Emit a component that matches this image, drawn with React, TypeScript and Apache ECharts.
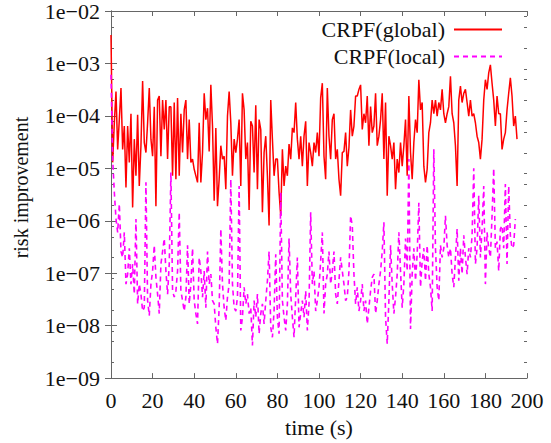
import React, { useEffect, useRef } from "react";
import * as echarts from "echarts";

// sampling interval of the recorded data (seconds)
const SAMPLE_STEP = 0.8;

const globalRisk: number[] = [
  3.5e-3, 1.3e-5, 7.4e-5, 2.9e-4, 2.3e-5, 8.5e-5, 3.4e-4, 2.3e-5, 6.4e-5, 4.3e-6,
  6.4e-5, 1.3e-5, 1.1e-4, 1.8e-6, 3.6e-5, 7.2e-6, 1.05e-4, 4.6e-6, 2.7e-5, 4.6e-4,
  3.1e-5, 2.0e-5, 7.4e-5, 3.4e-4, 3.6e-5, 1.7e-5, 1.5e-4, 1.9e-6, 2.0e-4, 2.4e-4,
  1.7e-5, 2.0e-4, 5.5e-5, 2.0e-4, 1.5e-5, 1.5e-4, 1.5e-4, 7.2e-6, 1.8e-4, 6.2e-6,
  2.2e-4, 7.2e-6, 1.1e-4, 2.0e-5, 1.3e-4, 2.0e-4, 1.5e-5, 8.5e-5, 1.3e-5, 1.5e-5,
  9.6e-6, 7.2e-6, 5.4e-6, 7.4e-5, 5.4e-6, 2.0e-5, 2.7e-4, 8.5e-5, 1.4e-4, 2.1e-5,
  3.9e-4,
  6.4e-5, 2.4e-6, 5.9e-5, 1.9e-6, 6.2e-6, 2.7e-5, 1.5e-5, 1.7e-5, 4.0e-6, 9.9e-5,
  2.9e-4, 7.4e-5, 7.2e-6, 3.6e-5, 2.0e-5, 3.6e-5, 8.5e-5, 4.6e-6, 2.7e-4, 1.3e-4,
  1.5e-5, 3.1e-5, 1.6e-6, 7.9e-5, 6.4e-5, 8.3e-6, 1.6e-4, 4.0e-6, 8.5e-5, 5.5e-5,
  1.45e-6, 2.0e-5, 4.1e-5, 7.2e-6, 8.1e-7, 2.0e-4, 3.6e-5, 7.2e-6, 1.5e-5, 1.5e-5,
  3.5e-6, 1.25e-6, 2.3e-5, 4.6e-6, 1.1e-5, 7.2e-6, 2.9e-5, 1.5e-5, 5.9e-5, 4.8e-5,
  1.8e-4, 3.6e-5, 1.5e-5, 4.1e-5, 1.1e-5, 4.1e-5, 7.9e-5, 4.6e-6, 3.1e-5, 2.0e-5,
  1.1e-5, 3.1e-5,
  2.0e-5, 4.8e-5, 1.7e-5, 2.2e-4, 4.2e-4, 1.7e-5, 6.2e-6, 3.4e-4, 4.1e-5, 1.5e-5,
  8.5e-5, 1.1e-4, 1.5e-5, 2.3e-5, 6.2e-6, 3.0e-6, 2.0e-5, 2.1e-5, 4.8e-5, 1.1e-5,
  2.5e-5, 1.3e-4, 4.1e-5, 6.4e-5, 2.4e-4, 2.4e-4, 3.2e-4, 3.9e-4, 5.5e-5, 1.1e-4,
  7.4e-5, 2.4e-4, 2.7e-5, 1.5e-4, 4.8e-5, 6.4e-5, 2.7e-4, 2.7e-5, 4.1e-5, 8.5e-5,
  2.7e-4, 1.5e-5, 1.8e-4, 3.0e-6, 4.1e-5, 2.7e-5, 1.5e-5, 3.1e-5, 4.0e-6, 1.5e-5,
  8.3e-6, 3.1e-5, 1.1e-5, 2.7e-5, 8.5e-5, 7.2e-6,
  2.4e-4, 2.0e-5, 6.2e-6, 3.1e-5, 8.5e-5, 4.8e-5, 4.9e-4, 1.3e-4, 1.8e-4, 1.1e-5,
  5.4e-6, 9.6e-6, 4.8e-5, 7.4e-5, 2.0e-4, 1.1e-4, 2.0e-4, 9.9e-5, 1.8e-4, 1.3e-4,
  3.2e-4, 1.1e-4, 7.4e-5, 1.1e-4, 1.5e-4, 5.7e-4, 1.1e-4, 7.4e-5, 2.7e-5, 4.6e-6,
  2.0e-4, 3.7e-4, 1.8e-4, 2.7e-4, 3.2e-4, 1.8e-4, 9.9e-5, 2.0e-4, 9.9e-5, 1.1e-4,
  7.4e-5, 4.1e-5, 3.1e-5, 1.5e-5, 3.6e-5, 2.0e-4, 4.9e-4, 3.2e-4, 6.6e-4, 9.4e-4,
  4.2e-4, 2.0e-4, 6.4e-5, 2.4e-4, 1.1e-4, 1.1e-4, 2.3e-5, 3.6e-5, 4.8e-5, 1.3e-4,
  2.7e-4, 5.3e-4, 2.4e-4, 6.4e-5, 9.9e-5, 3.6e-5,
];

const localRisk: number[] = [
  6.1e-4, 1.5e-5, 3.5e-6, 1.08e-6, 6.0e-7, 2.1e-6, 2.6e-7, 2.0e-7, 6.0e-7, 6.2e-8,
  9.6e-8, 3.0e-7, 6.2e-8, 1.5e-7, 4.0e-8, 1.08e-6, 2.6e-8, 6.2e-8, 4.0e-8, 1.9e-8,
  2.2e-8, 5.4e-6, 3.0e-8, 1.55e-8, 6.2e-8, 1.1e-7, 3.4e-7, 8.3e-8, 4.0e-8, 1.7e-8,
  1.5e-7, 2.6e-7, 4.6e-7, 1.1e-7, 4.0e-8, 1.5e-7, 8.3e-6, 4.6e-8, 3.5e-8, 4.6e-8,
  1.1e-7, 1.45e-6, 4.6e-8, 3.0e-8, 1.9e-8, 3.5e-8, 3.4e-7, 2.6e-8, 6.2e-8, 3.0e-7,
  3.0e-8, 1.7e-8, 1.08e-8, 2.0e-7, 1.1e-7, 3.5e-8, 1.1e-7, 2.2e-8, 2.6e-7, 6.2e-8,
  9.6e-8,
  3.0e-8, 2.6e-8, 9.3e-9, 4.5e-9, 2.2e-8, 7.0e-7, 6.2e-8, 2.2e-8, 1.25e-8, 3.5e-8,
  6.2e-8, 6.2e-6, 6.2e-8, 2.2e-8, 1.9e-8, 3.5e-8, 4.6e-6, 8.1e-9, 1.45e-8, 5.4e-8,
  2.6e-8, 4.0e-8, 1.7e-8, 2.2e-8, 4.2e-9, 3.0e-8, 1.45e-8, 4.0e-8, 7.0e-9, 1.7e-8,
  2.6e-8, 1.08e-8, 3.0e-8, 7.2e-8, 2.6e-7, 9.3e-9, 6.0e-9, 1.9e-8, 2.3e-7, 1.45e-8,
  7.0e-9, 3.5e-6, 3.0e-8, 1.45e-8, 8.1e-9, 2.6e-8, 4.6e-7, 4.0e-8, 1.45e-8, 6.0e-9,
  3.5e-8, 2.0e-7, 9.3e-9, 1.7e-8, 3.0e-8, 1.45e-8, 4.6e-8, 8.1e-9, 2.6e-8, 1.45e-6,
  6.2e-8, 1.1e-7,
  1.9e-8, 3.0e-8, 5.4e-8, 1.7e-7, 6.0e-7, 1.7e-8, 6.2e-8, 9.6e-8, 2.6e-7, 6.2e-8,
  1.1e-7, 2.6e-7, 4.0e-8, 2.6e-8, 7.2e-8, 2.0e-7, 1.1e-7, 6.2e-8, 3.0e-8, 3.5e-8,
  1.1e-7, 1.25e-6, 8.1e-7, 9.6e-8, 2.6e-8, 5.4e-8, 1.9e-8, 3.0e-8, 6.2e-8, 1.9e-8,
  3.0e-8, 1.08e-8, 2.2e-8, 4.6e-8, 8.3e-8, 9.6e-8, 1.7e-8, 3.0e-8, 6.2e-8, 1.1e-7,
  2.6e-7, 9.4e-7, 1.45e-8, 4.5e-9, 3.0e-8, 3.4e-7, 6.2e-8, 1.7e-8, 3.5e-8, 9.6e-8,
  6.0e-7, 1.1e-7, 2.2e-8, 6.2e-8, 4.6e-7, 1.1e-7,
  1.5e-5, 8.6e-9, 9.6e-8, 3.0e-7, 7.2e-8, 2.3e-7, 2.2e-6, 5.4e-8, 1.7e-7, 3.0e-7,
  7.2e-8, 3.4e-7, 9.6e-8, 5.4e-8, 1.9e-8, 2.3e-5, 3.0e-7, 5.4e-8, 3.0e-8, 3.4e-7,
  2.0e-7, 3.0e-7, 1.25e-6, 3.4e-7, 2.0e-7, 3.0e-7, 9.6e-8, 5.4e-8, 2.0e-7, 7.0e-7,
  7.2e-8, 3.0e-7, 9.6e-8, 5.3e-7, 2.0e-7, 9.6e-8, 3.0e-7, 2.0e-7, 5.3e-7, 1.0e-5,
  1.5e-7, 3.0e-7, 3.0e-6, 2.0e-7, 7.0e-7, 4.6e-6, 6.2e-8, 6.0e-7, 3.0e-7, 2.0e-7,
  1.25e-6, 1.0e-5, 3.0e-7, 4.0e-7, 1.1e-7, 7.0e-7, 8.1e-7, 3.0e-7, 5.0e-6, 1.5e-7,
  4.6e-6, 5.3e-7, 3.0e-7, 3.4e-7, 1.08e-6,
];

const seriesNames = ["CRPF(global)", "CRPF(local)"];
const xTicks = { min: 0, max: 200, interval: 20 };
const yRange = { min: 1e-9, max: 1e-2 };
const minorTickValues: number[] = [
  2e-9, 5e-9, 8e-9, 2e-8, 5e-8, 8e-8, 2e-7, 5e-7, 8e-7, 2e-6, 5e-6, 8e-6,
  2e-5, 5e-5, 8e-5, 2e-4, 5e-4, 8e-4, 2e-3, 5e-3, 8e-3,
];

const FONT = "Liberation Serif";
const AXIS_COLOR = "#666";
const TEXT_COLOR = "#111";

function yLabel(v: number): string {
  const e = Math.round(Math.log10(v));
  const a = Math.abs(e);
  return "1e" + (e < 0 ? "\u2212" : "+") + (a < 10 ? "0" + a : String(a));
}

export default function App() {
  const ref = useRef<HTMLDivElement>(null);
  useEffect(() => {
    if (!ref.current) return;
    const chart = echarts.init(ref.current, null, { renderer: "svg" });
    const globalData = globalRisk.map((v, i) => [i * SAMPLE_STEP, v]);
    const localData = localRisk.map((v, i) => [i * SAMPLE_STEP, v]);
    const baseX = {
      type: "value",
      min: xTicks.min,
      max: xTicks.max,
      interval: xTicks.interval,
      splitLine: { show: false },
      axisLine: { show: true, lineStyle: { color: AXIS_COLOR, width: 1 } },
      axisTick: { show: true, inside: true, length: 5, lineStyle: { color: AXIS_COLOR } },
    };
    const baseY = {
      type: "log",
      logBase: 10,
      min: yRange.min,
      max: yRange.max,
      splitNumber: 7,
      splitLine: { show: false },
      axisLine: { show: true, lineStyle: { color: AXIS_COLOR, width: 1 } },
      axisTick: { show: true, inside: true, length: 6, lineStyle: { color: AXIS_COLOR } },
    };
    chart.setOption({
      animation: false,
      backgroundColor: "#fff",
      textStyle: { fontFamily: FONT },
      grid: { left: 111, top: 11, right: 24, bottom: 63, containLabel: false },
      legend: {
        data: seriesNames,
        orient: "vertical",
        right: 43,
        top: 11,
        align: "right",
        itemWidth: 48,
        itemHeight: 14,
        itemGap: 0,
        itemStyle: { opacity: 0 },
        textStyle: { fontFamily: FONT, fontSize: 22, color: TEXT_COLOR, lineHeight: 27, padding: [0, 4, 0, 0] },
      },
      xAxis: [
        {
          ...baseX,
          position: "bottom",
          name: "time (s)",
          nameLocation: "middle",
          nameGap: 37,
          nameTextStyle: { fontFamily: FONT, fontSize: 22, color: TEXT_COLOR },
          axisLabel: { fontFamily: FONT, fontSize: 22, color: TEXT_COLOR, margin: 11 },
        },
        { ...baseX, position: "top", axisLabel: { show: false } },
      ],
      yAxis: [
        {
          ...baseY,
          position: "left",
          name: "risk improvement",
          nameLocation: "middle",
          nameGap: 80,
          nameRotate: 90,
          nameTextStyle: { fontFamily: FONT, fontSize: 20, color: TEXT_COLOR, padding: [0, 0, 0, 14] },
          axisLabel: { fontFamily: FONT, fontSize: 22, color: TEXT_COLOR, margin: 11, formatter: yLabel },
        },
        { ...baseY, position: "right", axisLabel: { show: false } },
      ],
      series: [
        {
          name: seriesNames[0],
          type: "line",
          data: globalData,
          symbol: "none",
          lineStyle: { color: "#ff0000", width: 1.5 },
          itemStyle: { color: "#ff0000" },
          z: 2,
        },
        {
          name: seriesNames[1],
          type: "line",
          data: localData,
          symbol: "none",
          lineStyle: { color: "#ff00ff", width: 1.6, type: [5, 4] },
          itemStyle: { color: "#ff00ff" },
          z: 3,
        },
        {
          type: "custom",
          silent: true,
          data: minorTickValues.map((v) => [0, v]),
          encode: { x: 0, y: 1 },
          renderItem: (params: any, api: any) => {
            const p = api.coord([0, api.value(1)]);
            const cs = params.coordSys;
            const y = Math.round(p[1]) + 0.5;
            return {
              type: "group",
              children: [
                { type: "line", shape: { x1: cs.x, y1: y, x2: cs.x + 3, y2: y }, style: { stroke: AXIS_COLOR, lineWidth: 1 } },
                { type: "line", shape: { x1: cs.x + cs.width - 3, y1: y, x2: cs.x + cs.width, y2: y }, style: { stroke: AXIS_COLOR, lineWidth: 1 } },
              ],
            };
          },
          z: 1,
        },
      ],
    });
    return () => chart.dispose();
  }, []);
  return (
    <div
      ref={ref}
      style={{ position: "fixed", left: 0, top: 0, width: 551, height: 443, background: "#fff" }}
    />
  );
}
